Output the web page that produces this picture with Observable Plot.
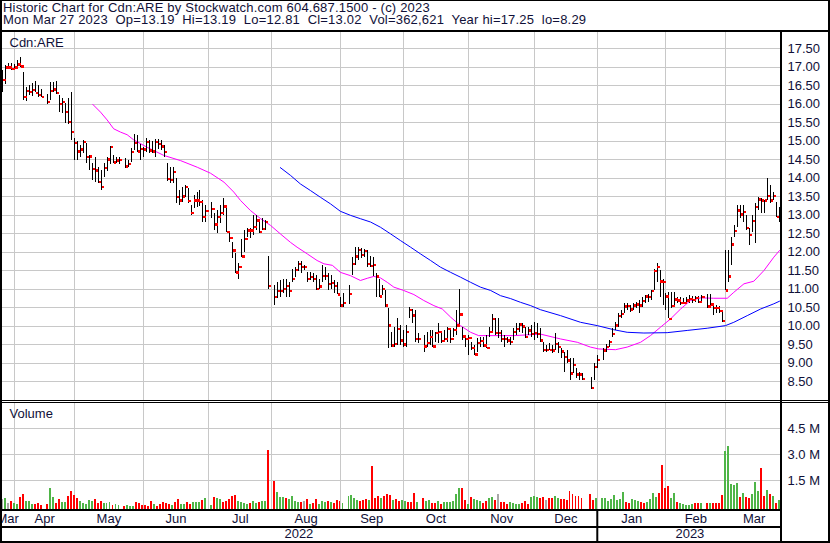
<!DOCTYPE html>
<html><head><meta charset="utf-8">
<script src="https://cdn.jsdelivr.net/npm/d3@7"></script>
<script src="https://cdn.jsdelivr.net/npm/@observablehq/plot@0.6"></script>
<style>
html,body{margin:0;padding:0;background:#fff;}
#chart{position:relative;width:830px;height:543px;overflow:hidden;background:#fff;font-family:'Liberation Sans',Arial,sans-serif;color:#101038;}
.ln{position:absolute;background:#000;z-index:5;}
.panel{position:absolute;left:0;z-index:1;}
#hdr{position:absolute;left:3px;top:2px;font-size:13px;line-height:12.4px;letter-spacing:0.2px;white-space:pre;z-index:6;}
</style></head><body>
<div id="chart">
  <div id="hdr"></div>
  <div class="panel" id="price" style="top:32px"></div>
  <div class="panel" id="volume" style="top:402px"></div>
  <div class="panel" id="months" style="top:511px"></div>
  <div class="ln" style="left:0;top:0;width:830px;height:1px"></div>
  <div class="ln" style="left:0;top:0;width:2px;height:543px"></div>
  <div class="ln" style="left:828px;top:0;width:2px;height:543px"></div>
  <div class="ln" style="left:0;top:541px;width:830px;height:2px"></div>
  <div class="ln" style="left:0;top:30px;width:830px;height:2px"></div>
  <div class="ln" style="left:0;top:400px;width:830px;height:1px"></div>
  <div class="ln" style="left:0;top:402px;width:830px;height:1px"></div>
  <div class="ln" style="left:0;top:509px;width:782px;height:2px"></div>
  <div class="ln" style="left:0;top:526px;width:782px;height:2px"></div>
  <div class="ln" style="left:780px;top:30px;width:2px;height:513px"></div>
</div>
<script>
// ---- Header text ----
const headerLines = [
  "Historic Chart for Cdn:ARE by Stockwatch.com 604.687.1500 - (c) 2023",
  "Mon Mar 27 2023  Op=13.19  Hi=13.19  Lo=12.81  Cl=13.02  Vol=362,621  Year hi=17.25  lo=8.29"
];
const symbolLabel = "Cdn:ARE";
const volumeLabel = "Volume";

// ---- Daily data, indexed by weekday (Mar 28 2022 .. Mar 27 2023); null = market holiday ----
const highs = [
16.90,17.04,17.10,17.10,17.07,17.18,17.25,16.84,16.45,16.50,
16.55,16.60,16.50,16.38,null,16.26,16.57,16.59,16.61,16.23,
16.14,16.02,16.14,16.32,15.06,15.00,14.88,15.01,14.94,14.61,
14.38,14.55,14.29,14.20,14.38,14.56,14.85,14.61,14.55,14.55,
null,14.54,14.47,14.79,15.17,15.15,14.90,14.83,15.06,15.01,
14.99,15.03,15.03,15.01,14.88,14.40,14.29,14.28,13.98,13.66,
13.75,13.80,13.71,13.26,13.53,13.62,13.66,13.39,13.26,null,
13.35,13.03,13.12,13.26,13.44,13.19,12.54,12.27,11.95,11.68,
12.33,12.58,12.63,12.63,12.99,12.99,12.85,12.90,12.85,11.88,
null,11.09,11.18,11.23,11.27,11.27,11.18,11.54,11.59,11.73,
11.73,11.64,11.45,11.45,11.41,11.36,11.27,11.64,11.59,11.41,
11.36,11.23,11.18,10.78,10.87,null,11.09,11.86,12.13,12.11,
12.09,12.06,12.04,11.88,11.86,11.41,11.27,11.09,10.96,10.46,
9.83,9.97,10.19,10.01,9.88,10.01,10.51,10.44,10.42,9.81,
null,9.74,9.83,9.88,9.88,9.83,10.06,9.79,9.88,9.97,
9.92,9.92,10.42,11.00,9.97,9.74,9.74,9.56,9.47,9.65,
9.70,9.70,9.74,9.97,10.31,10.19,10.19,9.88,9.74,9.70,
9.70,9.92,10.06,10.06,10.06,9.97,9.97,10.01,10.10,10.06,
9.92,9.56,9.47,9.52,9.47,9.81,9.56,9.38,9.29,9.34,
9.11,9.11,8.84,8.75,8.71,null,null,8.62,8.98,9.20,
null,9.38,9.50,9.61,9.92,10.10,10.33,10.42,10.60,10.60,
10.55,10.60,10.64,10.69,10.78,10.82,10.85,10.96,11.54,11.68,
11.50,11.27,10.87,10.91,10.91,10.91,10.78,10.78,10.73,10.78,
10.82,10.80,10.80,10.81,10.82,null,10.85,10.85,10.55,10.55,
10.53,10.37,12.04,12.04,12.40,12.72,13.26,13.26,13.26,12.99,
12.63,12.99,13.30,13.48,13.44,13.39,13.98,13.80,13.62,13.35,
13.19
];
const lows = [
16.32,16.53,16.95,16.90,16.97,16.99,16.99,16.09,16.07,16.23,
16.20,16.30,16.18,16.18,null,16.00,16.10,16.32,16.25,15.78,
15.74,15.48,15.45,15.01,14.47,14.47,14.56,14.65,14.38,14.20,
13.93,13.89,13.84,13.66,14.02,14.18,14.36,14.38,14.38,14.36,
null,14.25,14.29,14.43,14.74,14.70,14.47,14.56,14.70,14.65,
14.65,14.55,14.77,14.74,14.55,13.90,13.84,13.84,13.30,13.26,
13.35,13.48,13.30,12.99,13.17,13.20,13.23,12.81,12.81,null,
12.90,12.58,12.49,12.76,12.99,12.54,12.27,11.82,11.41,11.27,
11.86,11.99,12.40,12.36,12.45,12.58,12.49,12.58,12.58,11.00,
null,10.55,10.73,10.78,10.87,10.78,10.78,11.18,11.32,11.46,
11.41,11.50,11.18,11.23,11.18,10.96,11.00,11.18,11.23,10.96,
10.98,10.87,10.85,10.51,10.51,null,10.58,11.36,11.64,11.77,
11.82,11.86,11.59,11.57,11.34,10.78,10.78,10.82,10.51,9.38,
9.43,9.43,9.47,9.47,9.43,9.43,10.19,10.06,9.56,9.52,
null,9.29,9.43,9.47,9.43,9.56,9.52,9.52,9.56,9.56,
9.52,9.70,9.74,9.97,9.61,9.43,9.20,9.34,9.20,9.29,
9.43,9.43,9.38,9.70,9.83,9.74,9.65,9.56,9.43,9.52,
9.47,9.61,9.74,9.83,9.79,9.65,9.74,9.70,9.61,9.65,
9.56,9.29,9.29,9.34,9.25,9.34,9.25,9.11,8.75,8.98,
8.53,8.72,8.57,8.53,8.53,null,null,8.29,8.53,8.84,
null,9.07,9.29,9.43,9.70,9.88,9.97,10.19,10.33,10.42,
10.37,10.42,10.46,10.33,10.51,10.60,10.64,10.69,10.96,11.18,
10.78,10.55,10.42,10.19,10.46,10.51,10.60,10.55,10.58,10.60,
10.60,10.62,10.64,10.60,10.64,null,10.46,10.51,10.28,10.33,
10.33,10.10,10.96,11.18,11.64,12.40,12.67,12.90,12.81,12.58,
12.18,12.54,12.24,13.12,13.03,13.03,13.39,13.30,13.39,12.94,
12.81
];
const closes = [
16.64,16.99,16.99,16.94,16.99,17.07,17.01,16.18,16.35,16.32,
16.37,16.29,16.25,16.18,null,16.05,16.36,16.39,16.29,16.00,
16.05,15.78,15.52,15.24,14.94,14.72,14.77,14.97,14.56,14.58,
14.25,14.20,13.89,13.75,14.27,14.50,14.83,14.42,14.47,14.49,
null,14.31,14.37,14.70,14.94,14.72,14.78,14.77,14.97,14.74,
14.72,14.97,14.91,14.85,14.70,13.98,13.95,14.16,13.48,13.39,
13.50,13.75,13.37,13.05,13.39,13.39,13.36,12.94,13.10,null,
13.16,12.74,12.94,13.05,13.23,12.54,12.37,12.04,11.45,11.59,
11.88,12.36,12.58,12.58,12.67,12.85,12.54,12.63,12.81,11.08,
null,10.78,10.94,10.94,11.00,11.09,10.94,11.27,11.52,11.68,
11.59,11.59,11.27,11.32,11.27,11.00,11.07,11.36,11.36,11.14,
11.16,11.09,10.85,10.55,10.62,null,10.87,11.68,11.88,12.06,
11.91,12.02,11.68,11.63,11.65,11.34,10.80,11.00,10.55,10.01,
9.47,9.52,9.92,9.61,9.50,9.83,10.44,10.28,9.64,9.64,
null,9.45,9.54,9.70,9.45,9.81,9.83,9.59,9.64,9.91,
9.65,9.90,10.01,10.31,9.72,9.64,9.67,9.40,9.23,9.54,
9.59,9.47,9.40,9.83,10.19,9.81,9.81,9.65,9.64,9.61,
9.56,9.83,9.92,10.04,9.99,9.70,9.88,9.79,9.81,9.79,
9.61,9.36,9.36,9.36,9.34,9.52,9.43,9.31,9.16,9.07,
8.72,8.95,8.69,8.69,8.56,null,null,8.33,8.89,9.09,
null,9.34,9.43,9.56,9.79,10.01,10.27,10.33,10.53,10.54,
10.45,10.55,10.58,10.55,10.67,10.80,10.78,10.94,11.48,11.59,
11.20,11.18,10.80,10.19,10.54,10.72,10.69,10.62,10.62,10.69,
10.73,10.71,10.76,10.64,10.78,null,10.53,10.58,10.49,10.49,
10.40,10.13,10.96,11.34,12.20,12.56,13.12,13.01,13.09,12.64,
12.46,12.83,13.21,13.42,13.39,13.39,13.52,13.39,13.51,12.94,
13.02
];
// volume in millions of shares
const volumes = [
0.42,0.46,0.17,0.31,0.17,0.13,0.54,0.71,0.31,0.31,
0.13,0.13,0.19,0.08,null,0.13,1.07,0.54,0.17,0.42,
0.25,0.25,0.61,0.88,0.67,0.48,0.31,0.19,0.13,0.36,
0.31,0.42,0.21,0.31,0.19,0.19,0.25,0.08,0.13,0.08,
null,0.04,0.08,0.04,0.04,0.25,0.19,0.08,0.08,0.04,
0.31,0.13,0.04,0.13,0.25,0.19,0.13,0.08,0.25,0.42,
0.13,0.13,0.25,0.13,0.25,0.25,0.25,0.36,0.48,null,
0.08,0.54,0.48,0.42,0.25,0.31,0.42,0.61,0.65,0.31,
0.25,0.19,0.13,0.19,0.31,0.19,0.25,0.31,0.31,3.25,
null,1.46,0.84,0.54,0.54,0.48,0.42,0.59,0.31,0.25,
0.25,0.31,0.42,0.13,0.19,0.42,0.13,0.31,0.25,0.31,
0.25,0.19,0.36,0.31,0.19,null,0.59,0.65,0.48,0.36,
0.31,0.36,0.42,0.36,2.34,0.48,0.59,0.48,0.59,0.71,
0.65,0.36,0.42,0.31,0.36,0.31,0.25,0.23,0.77,0.23,
null,0.46,0.31,0.36,0.19,0.19,0.31,0.13,0.23,0.23,
0.25,0.31,0.71,1.04,1.04,0.36,0.13,0.54,0.42,0.36,
0.31,0.19,0.31,0.48,0.54,0.34,0.71,0.25,0.25,0.13,
0.25,0.19,0.13,0.13,0.19,0.31,0.13,0.54,0.59,0.54,
0.48,0.54,0.36,0.48,0.48,0.59,0.48,0.42,0.42,0.36,
0.88,0.71,0.59,0.59,0.48,null,null,0.71,0.36,0.48,
null,0.48,0.48,0.31,0.42,0.65,0.36,0.42,0.82,0.25,
0.19,0.42,0.36,0.31,0.25,0.19,0.25,0.42,0.77,0.54,
0.77,2.40,1.06,1.19,0.48,0.77,0.25,0.19,0.13,0.08,
0.08,0.13,0.19,0.17,0.19,null,0.19,0.19,0.19,0.19,
0.19,0.65,3.19,3.48,1.27,1.23,1.34,0.54,0.77,0.54,
0.48,0.71,1.38,0.88,2.21,0.59,0.94,0.71,0.59,0.19,
0.36
];
// volume bar direction: g = up, r = down, n = unchanged, - = holiday
const volDir = (
"ngnrggrrgg" + "grrr-rggrr" + "ggrrrrgggg" + "grrrgggrgg" +
"-rgggrrrrr" + "rgrrrrrgrr" + "ggrrgggrg-" + "grggrrrrrg" +
"gggrggrggr" + "-rgggrgggg" + "rnrgrrgggr" + "grrrg-gggg" +
"rrrgrrrgrr" + "rgrrggrrrg" + "-rggrrgrgg" + "ggggrrgrgg" +
"grrggrnrrr" + "ggggrrrggg" + "rrnrrggrrr" + "rrrrr--rrg" +
"-ggggggggr" + "rgggrrgggg" + "rrrrggrggg" + "ggrrg-rgrr" +
"rrgggggrgr" + "rgggrrgrgr" + "g").split("");

// ---- Moving averages (weekday index, price) ----
const maShortIdx = [30.1,32.7,34.9,37.1,39.4,41.6,43.8,48.3,53.9,59.5,65.1,69.5,74.0,77.3,79.6,82.9,86.3,89.6,92.9,96.3,98.5,101.9,105.2,107.5,110.3,113.0,116.4,119.7,122.0,124.2,126.4,128.7,130.9,134.2,137.6,140.9,144.3,147.1,149.9,153.2,156.6,159.3,164.4,171.1,175.5,180.0,186.7,192.3,196.7,199.5,205.1,209.0,213.5,216.8,220.2,223.5,226.9,230.2,233.6,238.0,242.5,244.7,248.1,251.4,254.8,258.1,260];
const maShortVal = [15.99,15.78,15.57,15.33,15.24,15.17,15.03,14.83,14.61,14.47,14.29,14.13,13.89,13.62,13.39,13.12,12.90,12.72,12.49,12.26,12.13,11.95,11.77,11.68,11.64,11.45,11.36,11.23,11.29,11.34,11.30,11.18,11.05,10.96,10.85,10.69,10.55,10.46,10.24,10.01,9.83,9.74,9.74,9.74,9.76,9.78,9.65,9.56,9.43,9.38,9.36,9.43,9.56,9.74,9.97,10.19,10.46,10.69,10.76,10.75,10.75,10.91,11.14,11.21,11.50,11.86,12.04];
const maLongIdx = [92.9,96.3,99.6,103.0,106.3,109.7,113.0,116.4,119.7,123.1,126.4,129.8,133.1,136.5,139.8,143.2,146.5,149.9,153.2,156.6,159.9,163.3,166.6,170.0,173.3,176.7,180.0,186.7,193.4,199.0,204.5,209.0,214.6,222.4,229.1,235.8,241.9,244.7,249.2,253.7,258.1,260];
const maLongVal = [14.28,14.07,13.84,13.66,13.48,13.30,13.10,12.99,12.90,12.81,12.67,12.49,12.31,12.13,11.95,11.77,11.59,11.45,11.32,11.18,11.05,10.96,10.82,10.74,10.64,10.55,10.44,10.28,10.10,10.01,9.90,9.83,9.81,9.82,9.88,9.94,10.01,10.10,10.28,10.46,10.60,10.67];

// ---- Axes ----
const priceTicks = [8.5,9,9.5,10,10.5,11,11.5,12,12.5,13,13.5,14,14.5,15,15.5,16,16.5,17,17.5];
const volumeTicks = [1.5,3.0,4.5];
const monthGrid = [4,24,47,69,90,113,134,156,178,199,222,242]; // weekday index of each month boundary
const monthNames = ["Mar","Apr","May","Jun","Jul","Aug","Sep","Oct","Nov","Dec","Jan","Feb","Mar"];
const axisStart = -0.8, axisEnd = 261;
const yearNames = ["2022","2023"];
const yearBreak = 199;

// ---- Build tables ----
const rows = [];
for (let i = 0; i < highs.length; i++) {
  if (highs[i] == null) continue;
  rows.push({i, high: highs[i], low: lows[i], close: closes[i], vol: volumes[i], dir: volDir[i]});
}
const maShort = maShortIdx.map((i, k) => ({i, v: maShortVal[k]}));
const maLong = maLongIdx.map((i, k) => ({i, v: maLongVal[k]}));
const mBounds = [axisStart, ...monthGrid, axisEnd];
const monthLabels = monthNames.map((name, k) => ({name, mid: (mBounds[k] + mBounds[k + 1]) / 2}));
const yBounds = [axisStart, yearBreak, axisEnd];
const yearLabels = yearNames.map((name, k) => ({name, mid: (yBounds[k] + yBounds[k + 1]) / 2}));
const volColor = {g: "#4fb548", r: "#ff0000", n: "#a8a8a8"};

const FONT = "'Liberation Sans', Arial, sans-serif";
const TXT = "#101038";
const GRID = "#c8c8c8";
const xScale = {domain: [0, 260], range: [2.35, 779], axis: null};
const baseStyle = {fontFamily: FONT, fontSize: "13px", color: TXT, background: "transparent", overflow: "visible"};

document.getElementById("hdr").textContent = headerLines.join("\n");

// ---- Price panel ----
const pricePlot = Plot.plot({
  width: 830, height: 368,
  marginTop: 0, marginBottom: 0, marginLeft: 0, marginRight: 48,
  style: baseStyle,
  x: xScale,
  y: {domain: [8.5, 17.5], range: [349, 16], axis: null},
  marks: [
    Plot.ruleY(priceTicks, {stroke: GRID, shapeRendering: "crispEdges"}),
    Plot.ruleX(monthGrid, {stroke: GRID, shapeRendering: "crispEdges"}),
    Plot.axisY(priceTicks, {anchor: "right", tickSize: 0, tickPadding: 5, tickFormat: d => d.toFixed(2), label: null, fontSize: 13}),
    Plot.line(maShort, {x: "i", y: "v", stroke: "#ff00ff", strokeWidth: 1}),
    Plot.line(maLong, {x: "i", y: "v", stroke: "#0000ff", strokeWidth: 1}),
    Plot.ruleX(rows, {x: "i", y1: "low", y2: "high", stroke: "#000", strokeWidth: 1, shapeRendering: "crispEdges"}),
    Plot.dot(rows, {x: "i", y: "close", symbol: "square", r: 1.3, dx: 1.6, fill: "#ff0000", stroke: "none", shapeRendering: "crispEdges"}),
    Plot.text([symbolLabel], {frameAnchor: "top-left", text: d => d, dx: 9, dy: 10, lineAnchor: "middle", fontSize: 13})
  ]
});
document.getElementById("price").appendChild(pricePlot);

// ---- Volume panel ----
const volumePlot = Plot.plot({
  width: 830, height: 107,
  marginTop: 0, marginBottom: 0, marginLeft: 0, marginRight: 48,
  style: baseStyle,
  x: xScale,
  y: {domain: [0, 4.5], range: [104.3, 26.3], axis: null},
  marks: [
    Plot.ruleY(volumeTicks, {stroke: GRID, shapeRendering: "crispEdges"}),
    Plot.ruleX(monthGrid, {stroke: GRID, shapeRendering: "crispEdges"}),
    Plot.axisY(volumeTicks, {anchor: "right", tickSize: 0, tickPadding: 5, tickFormat: d => d.toFixed(1) + " M", label: null, fontSize: 13}),
    Plot.rect(rows, {x1: d => d.i - 0.45, x2: d => d.i + 0.2, y1: 0, y2: "vol", fill: d => volColor[d.dir], insetBottom: -2.8, shapeRendering: "crispEdges"}),
    Plot.text([volumeLabel], {frameAnchor: "top-left", text: d => d, dx: 9, dy: 11, lineAnchor: "middle", fontSize: 13})
  ]
});
document.getElementById("volume").appendChild(volumePlot);

// ---- Month / year rows ----
const monthPlot = Plot.plot({
  width: 830, height: 32,
  marginTop: 0, marginBottom: 0, marginLeft: 0, marginRight: 48,
  style: baseStyle,
  x: xScale,
  y: {type: "band", domain: ["month", "year"], range: [0, 30], padding: 0, axis: null},
  marks: [
    Plot.text(monthLabels, {x: "mid", y: () => "month", text: "name", fontSize: 13}),
    Plot.text(yearLabels, {x: "mid", y: () => "year", text: "name", fontSize: 13}),
    Plot.ruleX([yearBreak], {stroke: "#000", strokeWidth: 2, y1: null, y2: null})
  ]
});
document.getElementById("months").appendChild(monthPlot);
</script>
</body></html>
